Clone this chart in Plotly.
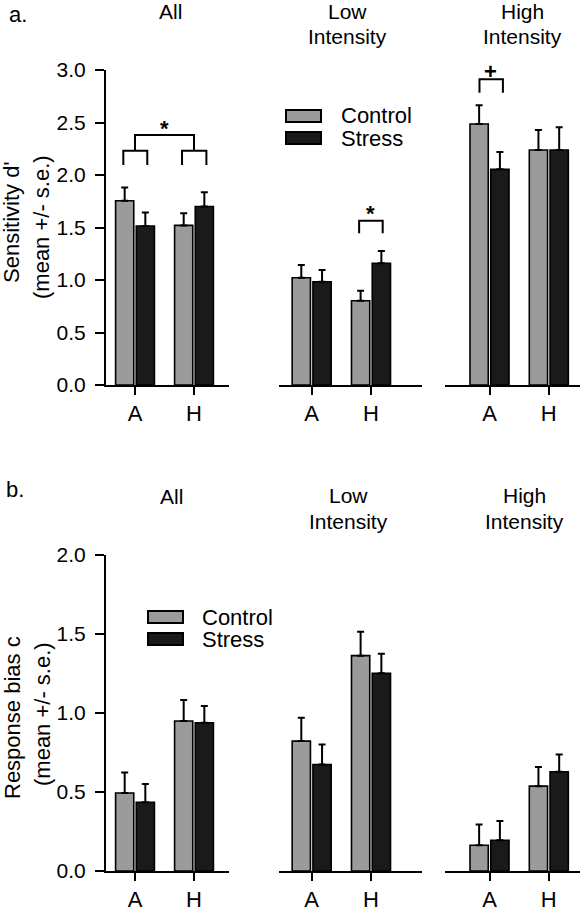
import plotly.graph_objects as go

# ---------------- data ----------------
categories = ["A", "H"]
panel_titles = [["All"], ["Low", "Intensity"], ["High", "Intensity"]]

# Sensitivity d' (top row): All, Low Intensity, High Intensity
d_control = [[1.755, 1.52], [1.022, 0.803], [2.486, 2.238]]
d_control_se = [[0.125, 0.115], [0.121, 0.095], [0.178, 0.191]]
d_stress = [[1.514, 1.70], [0.984, 1.159], [2.054, 2.238]]
d_stress_se = [[0.13, 0.135], [0.111, 0.117], [0.165, 0.216]]

# Response bias c (bottom row)
c_control = [[0.494, 0.949], [0.822, 1.363], [0.163, 0.537]]
c_control_se = [[0.129, 0.133], [0.148, 0.152], [0.131, 0.122]]
c_stress = [[0.435, 0.938], [0.674, 1.251], [0.195, 0.628]]
c_stress_se = [[0.116, 0.106], [0.127, 0.124], [0.122, 0.110]]

d_ticks = [0.0, 0.5, 1.0, 1.5, 2.0, 2.5, 3.0]
c_ticks = [0.0, 0.5, 1.0, 1.5, 2.0]

series_names = ["Control", "Stress"]

# ---------------- styling ----------------
W, H = 584, 907
FONT = "Liberation Sans, Arial, sans-serif"
GRAY = "#9b9b9b"
DARK = "#1a1a1a"


def px(x):
    return x / W


def py(y):
    return 1 - y / H


x_domains = [[px(106), px(229)], [px(279), px(422)], [px(444.5), px(580)]]
x_ranges = [[-0.4915, 1.593], [-0.551, 1.860], [-0.759, 1.526]]
y_domains = [[py(385), py(70)], [py(871), py(555)]]
y_ranges = [[0, 3], [0, 2]]

fig = go.Figure()
layout = dict(
    template="none",
    width=W, height=H, margin=dict(l=0, r=0, t=0, b=0, pad=0), autosize=False,
    paper_bgcolor="white", plot_bgcolor="white",
    barmode="group", bargap=0.3, bargroupgap=0.12,
    showlegend=False, font=dict(family=FONT, color="black"),
)

rows = [
    (d_control, d_control_se, d_stress, d_stress_se, d_ticks),
    (c_control, c_control_se, c_stress, c_stress_se, c_ticks),
]

idx = 0
for r, (ctl, ctl_se, st, st_se, ticks) in enumerate(rows):
    for p in range(3):
        idx += 1
        xs = "" if idx == 1 else str(idx)
        xref, yref = "x" + xs, "y" + xs
        for vals, se, color, name in [(ctl[p], ctl_se[p], GRAY, series_names[0]),
                                      (st[p], st_se[p], DARK, series_names[1])]:
            fig.add_trace(go.Bar(
                x=[0, 1], y=vals, name=name, xaxis=xref, yaxis=yref,
                offsetgroup=name, hoverinfo="skip",
                marker=dict(color=color, line=dict(color="black", width=1.6)),
                error_y=dict(type="data", array=se, arrayminus=[0, 0],
                             symmetric=False, color="black", thickness=2, width=3.5),
            ))
        layout["xaxis" + xs] = dict(
            domain=x_domains[p], range=x_ranges[p], anchor=yref, automargin=False,
            tickvals=[0, 1], ticktext=categories,
            showline=True, linecolor="black", linewidth=2,
            ticks="outside", ticklen=8, tickwidth=2, tickcolor="black",
            showgrid=False, zeroline=False, fixedrange=True,
            tickfont=dict(family=FONT, size=22, color="black"),
            ticklabelstandoff=0,
        )
        layout["yaxis" + xs] = dict(
            domain=y_domains[r], range=y_ranges[r], anchor=xref, automargin=False,
            tickvals=ticks, ticktext=[f"{t:.1f}" for t in ticks],
            showline=(p == 0), linecolor="black", linewidth=2,
            ticks="outside" if p == 0 else "", ticklen=9, tickwidth=2, tickcolor="black",
            showticklabels=(p == 0),
            showgrid=False, zeroline=False, fixedrange=True,
            tickfont=dict(family=FONT, size=21, color="black"),
            ticklabelstandoff=5,
        )

fig.update_layout(**layout)

annotations = []
shapes = []


def txt(x, y, text, size=21, xanchor="center", angle=0):
    annotations.append(dict(
        x=px(x), y=py(y), xref="paper", yref="paper", text=text,
        showarrow=False, xanchor=xanchor, yanchor="middle", textangle=angle,
        font=dict(family=FONT, size=size, color="black"),
    ))


# panel letters and titles
txt(7, 15, "a.", size=22, xanchor="left")
txt(4, 489, "b.", size=22, xanchor="left")
title_x = [[170, 347, 522], [171, 348, 524]]
title_y = [[12, 36], [496, 521]]
for r in range(2):
    for p in range(3):
        for li, line in enumerate(panel_titles[p]):
            yy = title_y[r][li] if len(panel_titles[p]) == 2 else title_y[r][0]
            if len(panel_titles[p]) == 2 and li == 0:
                yy = title_y[r][0] - 1
            txt(title_x[r][p], yy, line)

# y-axis titles (two lines, rotated)
txt(12, 222, "Sensitivity d'", size=22, angle=-90)
txt(42, 227, "(mean +/- s.e.)", size=22, angle=-90)
txt(12, 718, "Response bias c", size=22, angle=-90)
txt(42, 714, "(mean +/- s.e.)", size=22, angle=-90)

# legends drawn as swatches
for (bx0, by0, tx) in [(286, 110, 339), (148, 611, 200)]:
    for k, (name, color) in enumerate(zip(series_names, [GRAY, DARK])):
        y0 = by0 + k * 22
        shapes.append(dict(type="rect", xref="paper", yref="paper",
                           x0=px(bx0), x1=px(bx0 + 35), y0=py(y0), y1=py(y0 + 12),
                           fillcolor=color, line=dict(color="black", width=2)))
        annotations.append(dict(
            x=px(tx), y=py(y0 + 6), xref="paper", yref="paper", text=name,
            showarrow=False, xanchor="left", yanchor="middle",
            font=dict(family=FONT, size=22, color="black")))


def bracket(xref, yref, x0, x1, ytop, ybot):
    shapes.append(dict(type="path", xref=xref, yref=yref,
                       path=f"M {x0},{ybot} L {x0},{ytop} L {x1},{ytop} L {x1},{ybot}",
                       line=dict(color="black", width=2)))


# significance brackets (top row)
bracket("x", "y", 0, 1, 2.381, 2.231)
bracket("x", "y", -0.198, 0.208, 2.231, 2.095)
bracket("x", "y", 0.797, 1.21, 2.231, 2.095)
bracket("x2", "y2", 0.80, 1.197, 1.565, 1.445)
bracket("x3", "y3", -0.169, 0.226, 2.911, 2.784)

for xr, yr, xv, yv, t in [("x", "y", 0.5, 2.44, "<b>*</b>"),
                          ("x2", "y2", 0.99, 1.63, "<b>*</b>"),
                          ("x3", "y3", 0.02, 2.99, "<b>+</b>")]:
    annotations.append(dict(x=xv, y=yv, xref=xr, yref=yr, text=t, showarrow=False,
                            xanchor="center", yanchor="middle",
                            font=dict(family=FONT, size=22, color="black")))

fig.update_layout(annotations=annotations, shapes=shapes)
fig.write_html(
    "out.html",
    config={"displayModeBar": False, "staticPlot": True},
    post_script="document.body.style.margin='0px';document.body.style.overflow='hidden';",
)
